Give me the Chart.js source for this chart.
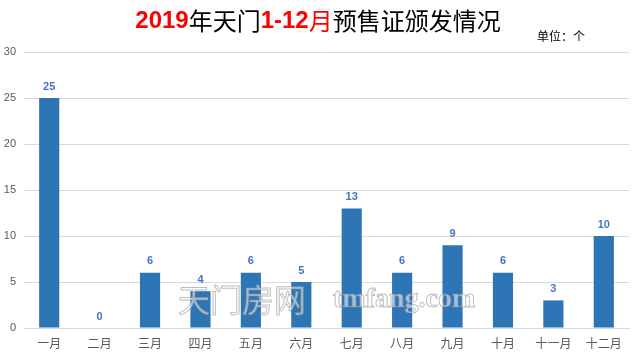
<!DOCTYPE html>
<html><head><meta charset="utf-8">
<script src="https://cdn.jsdelivr.net/npm/chart.js@4/dist/chart.umd.min.js"></script>
<style>html,body{margin:0;padding:0;background:#fff;}#wrap{width:640px;height:354px;position:relative;}</style>
</head><body><div id="wrap"><canvas id="c" width="640" height="354"></canvas></div>
<script>
const categories = ['一月','二月','三月','四月','五月','六月','七月','八月','九月','十月','十一月','十二月'];
const values = [25,0,6,4,6,5,13,6,9,6,3,10];
const yTicks = [0,5,10,15,20,25,30];
const titleParts = [
  {t:'2019', c:'#FF0000', w:'bold'},
  {t:'年天门', c:'#000000', w:'normal'},
  {t:'1-12', c:'#FF0000', w:'bold'},
  {t:'月', c:'#FF0000', w:'normal'},
  {t:'预售证颁发情况', c:'#000000', w:'normal'}
];
const unitText = '单位：个';
const watermarkCN = '天门房网';
const watermarkEN = 'tmfang.com';

const FONT = '"Liberation Sans","Noto Sans CJK SC",sans-serif';
const CJK = '"Noto Sans CJK SC",sans-serif';

const overlay = {
  id:'overlay',
  afterDatasetsDraw(chart){
    const ctx = chart.ctx;
    const meta = chart.getDatasetMeta(0);
    ctx.save();
    ctx.fillStyle = '#4472C4';
    ctx.font = 'bold 11px "Liberation Sans",sans-serif';
    ctx.textAlign = 'center';
    ctx.textBaseline = 'bottom';
    meta.data.forEach((b,i)=>{
      ctx.fillText(String(values[i]), b.x, b.y - 6);
    });
    ctx.restore();
  },
  afterDraw(chart){
    const ctx = chart.ctx;
    ctx.save();
    let total = 0;
    const fs = 24;
    const fontOf = p => p.w + ' ' + fs + 'px ' + (p.w==='bold' ? '"Liberation Sans",sans-serif' : CJK);
    titleParts.forEach(p=>{
      ctx.font = fontOf(p);
      p.width = ctx.measureText(p.t).width;
      total += p.width;
    });
    let x = 318 - total/2;
    ctx.textBaseline = 'middle';
    ctx.textAlign = 'left';
    titleParts.forEach(p=>{
      ctx.font = fontOf(p);
      ctx.fillStyle = p.c;
      ctx.fillText(p.t, x, 21);
      x += p.width;
    });
    ctx.font = '12px ' + CJK;
    ctx.fillStyle = '#000';
    ctx.fillText(unitText, 537, 36);
    ctx.globalAlpha = 0.55;
    ctx.lineWidth = 1;
    ctx.strokeStyle = '#888';
    ctx.fillStyle = '#fff';
    ctx.font = '32px ' + CJK;
    ctx.textBaseline = 'middle';
    ctx.fillText(watermarkCN, 178, 300);
    ctx.strokeText(watermarkCN, 178, 300);
    ctx.font = 'bold 28px "Liberation Serif",serif';
    ctx.fillText(watermarkEN, 333, 300);
    ctx.strokeText(watermarkEN, 333, 300);
    ctx.restore();
  }
};

new Chart(document.getElementById('c'), {
  type:'bar',
  data:{labels:categories, datasets:[{data:values, backgroundColor:'#2E75B6', borderColor:'#2E75B6', borderWidth:0, barPercentage:0.4, categoryPercentage:1.0}]},
  options:{
    responsive:false, animation:false, devicePixelRatio:1,
    layout:{padding:{top:52,right:11,left:0,bottom:0}},
    plugins:{legend:{display:false}, title:{display:false}, tooltip:{enabled:false}},
    scales:{
      x:{
        grid:{display:false},
        border:{display:true, color:'#D9D9D9', width:1},
        ticks:{color:'#595959', font:{family:CJK, size:12}, padding:0, maxRotation:0, autoSkip:false},
        afterFit(s){ s.height = 26; }
      },
      y:{
        min:0, max:30,
        afterBuildTicks(s){ s.ticks = yTicks.map(v=>({value:v})); },
        grid:{color:'#D9D9D9', drawTicks:false},
        border:{display:false},
        ticks:{color:'#595959', font:{family:FONT, size:11}, padding:8},
        afterFit(s){ s.width = 24; }
      }
    }
  },
  plugins:[overlay]
});
</script>
</body></html>
